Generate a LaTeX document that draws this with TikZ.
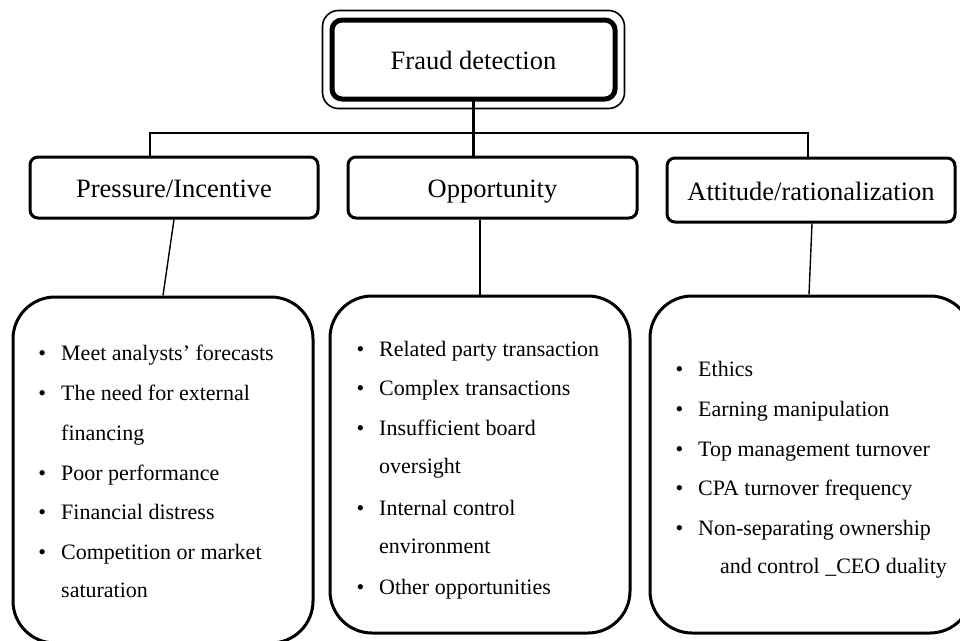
\documentclass[tikz,border=0pt]{standalone}
\usepackage{fontspec}
\setmainfont{Liberation Serif}
\usetikzlibrary{calc}
\begin{document}
\begin{tikzpicture}[x=1pt,y=-1pt,
  hdr/.style={draw, line width=3pt, rounded corners=8pt, inner sep=0pt, font=\fontsize{26.5}{30}\selectfont, text height=20pt, text depth=0pt},
  big/.style={draw, line width=3pt, rounded corners=42pt, inner sep=0pt},
  conn/.style={line width=1.4pt},
  itm/.style={anchor=base west, inner sep=0pt, font=\fontsize{22}{24}\selectfont}]
\useasboundingbox (0,0) rectangle (960,640);
% top box
\node[hdr, line width=5pt, rounded corners=10pt, minimum width=283pt, minimum height=79pt] (fd) at (473.5,59.5) {Fraud detection};
\draw[line width=1.6pt, rounded corners=16pt] ($(fd.north west)+(-7,-7)$) rectangle ($(fd.south east)+(7,7)$);
% second level
\node[hdr, minimum width=288pt, minimum height=61pt] (pi) at (174,187.5) {Pressure/Incentive};
\node[hdr, minimum width=289pt, minimum height=61pt] (opp) at (492.5,187.5) {Opportunity};
\node[hdr, minimum width=288pt, minimum height=64pt] (att) at (811,190) {Attitude/rationalization};
% big boxes
\node[big, minimum width=300pt, minimum height=346pt] (bl) at (163,470) {};
\node[big, minimum width=300pt, minimum height=337pt] (bm) at (480,464.5) {};
\node[big, minimum width=322pt, minimum height=337pt] (br) at (811,464.5) {};
% connectors
\coordinate (hl) at (150,133);
\coordinate (hr) at (808,133);
\draw[conn] (pi.north -| hl) -- (hl) -- (hr) -- (hr |- att.north);
\draw[line width=2.6pt] ([yshift=4pt]fd.south) -- (fd.south |- opp.north);
\draw[conn] (pi.south) -- (bl.north);
\draw[conn] (bm.north |- opp.south) -- (bm.north);
\draw[conn] ([xshift=1pt]att.south) -- ([xshift=-2pt]br.north);
% left list
\node[itm] (l1) at (61,360.5) {\llap{•\hspace{15pt}}Meet analysts’ forecasts};
\node[itm] (l2) at (61,400.5) {\llap{•\hspace{15pt}}The need for external};
\node[itm] (l3) at (61,440) {financing};
\node[itm] (l4) at (61,480) {\llap{•\hspace{15pt}}Poor performance};
\node[itm] (l5) at (61,519.5) {\llap{•\hspace{15pt}}Financial distress};
\node[itm] (l6) at (61,559.5) {\llap{•\hspace{15pt}}Competition or market};
\node[itm] (l7) at (61,597.5) {saturation};
% middle list
\node[itm] (m1) at (379,356) {\llap{•\hspace{15pt}}Related party transaction};
\node[itm] (m2) at (379,395.5) {\llap{•\hspace{15pt}}Complex transactions};
\node[itm] (m3) at (379,435) {\llap{•\hspace{15pt}}Insufficient board};
\node[itm] (m4) at (379,473.5) {oversight};
\node[itm] (m5) at (379,515) {\llap{•\hspace{15pt}}Internal control};
\node[itm] (m6) at (379,553) {environment};
\node[itm] (m7) at (379,594) {\llap{•\hspace{15pt}}Other opportunities};
% right list
\node[itm] (r1) at (698,376) {\llap{•\hspace{15pt}}Ethics};
\node[itm] (r2) at (698,416) {\llap{•\hspace{15pt}}Earning manipulation};
\node[itm] (r3) at (698,456) {\llap{•\hspace{15pt}}Top management turnover};
\node[itm] (r4) at (698,495) {\llap{•\hspace{15pt}}CPA turnover frequency};
\node[itm] (r5) at (698,535) {\llap{•\hspace{15pt}}Non-separating ownership};
\node[itm] (r6) at (720,573) {and control \_CEO duality};
\end{tikzpicture}
\end{document}
